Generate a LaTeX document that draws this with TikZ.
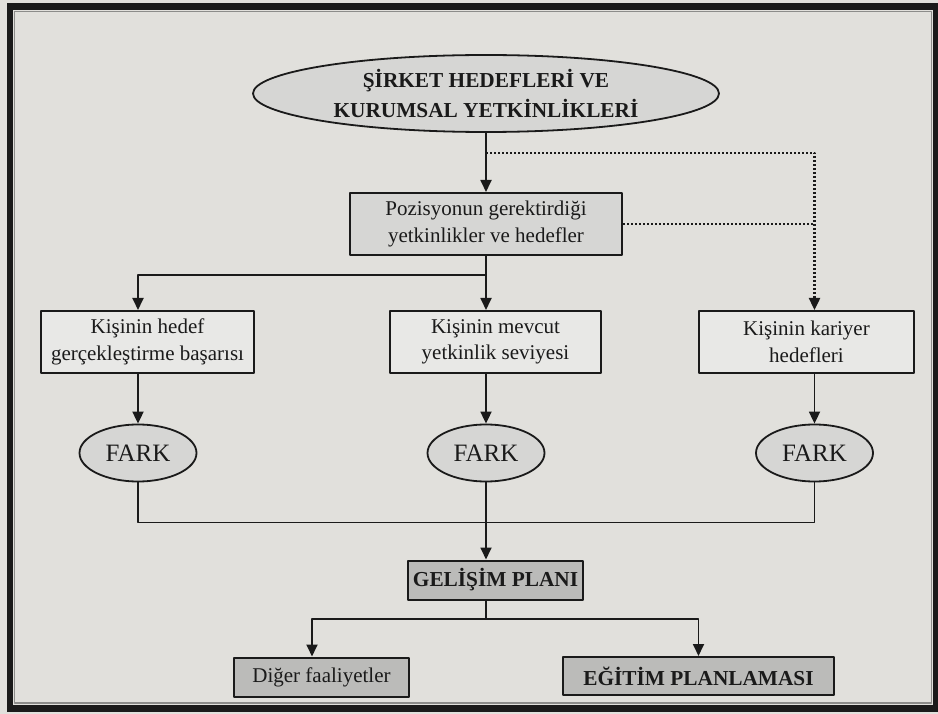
\documentclass[tikz,border=0pt]{standalone}
\usepackage{fontspec}
\setmainfont{Liberation Serif}
\usetikzlibrary{arrows.meta, shapes.geometric, calc, positioning}
\definecolor{paper}{HTML}{E1E0DC}
\definecolor{ink}{HTML}{1A1A1A}
\definecolor{fgray}{HTML}{D6D6D4}
\definecolor{flight}{HTML}{E8E8E6}
\definecolor{fdark}{HTML}{BBBBB9}
\definecolor{rim}{HTML}{8C8C8A}
\newcommand{\txtn}{\fontsize{21}{26.5}\selectfont}
\newcommand{\txtb}{\fontsize{21.3}{30}\selectfont\bfseries}
\newcommand{\txtk}{\fontsize{25}{30}\selectfont}
\tikzset{el/.style={line cap=round, line join=round},
  ov/.style={ellipse, draw=ink, text=ink, line width=1.8pt, fill=fgray, inner sep=0pt, align=center},
  bx/.style={rectangle, draw=ink, text=ink, line width=2pt, inner sep=0pt, align=center},
  ln/.style={ink, line width=1.8pt},
  ar/.style={ln, -{Triangle[length=12pt, width=11pt]}},
  dt/.style={ink, line width=2.4pt, dash pattern=on 2pt off 2pt, line cap=butt}}

\begin{document}
\begin{tikzpicture}[el, x=1pt, y=-1pt]
  \useasboundingbox (0,0) rectangle (938,714);
  \fill[paper] (0,0) rectangle (938,714);
  \draw[ink, line width=6.5pt, line cap=butt, line join=miter] (10,6.5) rectangle (936.5,708.5);
  \draw[rim, line width=1.4pt] (14.5,11.5) rectangle (931.5,703);

  \node[ov, minimum width=466, minimum height=77, font=\txtb] (hq) at (486,93.5) {ŞİRKET HEDEFLERİ VE\\KURUMSAL YETKİNLİKLERİ};
  \node[bx, fill=fgray, minimum width=272, minimum height=62, font=\txtn] (poz) at (486,224) {Pozisyonun gerektirdiği\\yetkinlikler ve hedefler};
  \foreach \n/\x/\w/\t in {hed/147.5/213/{Kişinin hedef\\gerçekleştirme başarısı}, mev/495.5/211/{Kişinin mevcut\\yetkinlik seviyesi}, kar/806.5/215/{Kişinin kariyer\\hedefleri}}
    \node[bx, fill=flight, minimum width=\w, minimum height=62, font=\txtn] (\n) at (\x,342) {\t};
  \foreach \i/\x in {1/138, 2/486, 3/814.5}
    \node[ov, minimum width=117, minimum height=57, font=\txtk] (fk\i) at (\x,453) {FARK};
  \node[bx, fill=fdark, minimum width=175, minimum height=39, font=\txtb] (gel) at (495.5,580) {GELİŞİM PLANI};
  \node[bx, fill=fdark, minimum width=175, minimum height=39, font=\txtn] (dig) at (321.5,677) {Diğer faaliyetler};
  \node[bx, fill=fdark, minimum width=271, minimum height=38, font=\txtb] (egt) at (698.5,676) {EĞİTİM PLANLAMASI};

  \coordinate (j1) at ($(hq.south)+(0,20)$);
  \coordinate (j2) at ($(poz.south)+(0,19)$);
  \coordinate (j3) at ($(fk2.south)+(0,40)$);
  \coordinate (j4) at ($(gel.south -| fk2)+(0,18.5)$);

  \draw[ar] (hq) -- (poz);
  \draw[dt, -{Triangle[length=12pt, width=11pt]}] (j1) -| (kar.north -| fk3);
  \draw[dt] (poz.east) -- (poz.east -| fk3);
  \draw[ar] (poz) -- (mev.north -| poz.south);
  \draw[ar] (j2) -| (hed.north -| fk1);
  \foreach \n/\i in {hed/1, mev/2, kar/3} \draw[ar] (\n.south -| fk\i) -- (fk\i);
  \draw[ln] (fk1.south) |- (j3) -| (fk3.south);
  \draw[ar] (fk2) -- (gel.north -| fk2);
  \draw[ln] (gel.south -| fk2) -- (j4);
  \draw[ar] (j4) -| ([xshift=-9.5pt]dig.north);
  \draw[ar] (j4) -| (egt.north);
\end{tikzpicture}
\end{document}
